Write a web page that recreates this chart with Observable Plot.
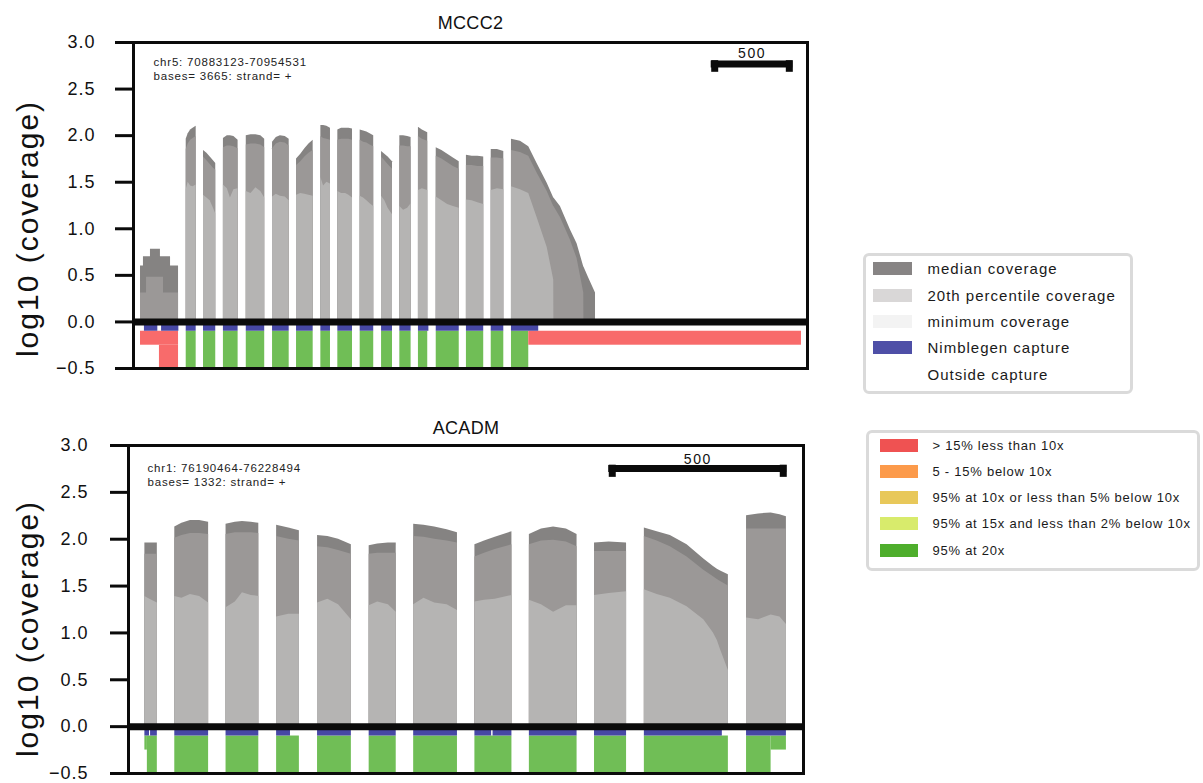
<!DOCTYPE html>
<html><head><meta charset="utf-8">
<script src="https://cdn.jsdelivr.net/npm/d3@7"></script>
<script src="https://cdn.jsdelivr.net/npm/@observablehq/plot@0.6"></script>
<style>
body{margin:0;background:#fff;font-family:"Liberation Sans",Arial,sans-serif;}
#root{position:relative;width:1203px;height:783px;overflow:hidden;background:#fff;}
.panel{position:absolute;left:0;}
.legend{position:absolute;border:3.5px solid #dadada;border-radius:6px;box-sizing:border-box;background:#fff;}
.sw{position:absolute;}
.lab{position:absolute;white-space:pre;color:#1a1a1a;line-height:1;}
</style></head><body><div id="root"></div>
<script>
// ---------- shared ----------
const yTicks = [-0.5, 0, 0.5, 1, 1.5, 2, 2.5, 3];
const yLabel = "log10 (coverage)";

// ---------- MCCC2 (top) ----------
const mccc2Title = "MCCC2";
const mccc2Info = "chr5: 70883123-70954531\nbases= 3665: strand= +";
const mccc2XMax = 4130;
const mccc2ScaleStart = 3540;
const mccc2ScaleLength = 500;
const mccc2Pos = [
 [43,61,61,80,80,104,104,165,165,184,184,227,227,276],
 [323,335,350,365,384],
 [429,450,470,490,504],
 [551,575,594,615,641],
 [691,720,750,780,804],
 [852,875,900,930,954],
 [999,1025,1050,1075,1101],
 [1148,1165,1185,1207],
 [1252,1275,1300,1320,1342],
 [1389,1410,1430,1450,1472],
 [1520,1540,1560,1587],
 [1632,1655,1680,1701],
 [1746,1770,1803],
 [1855,1890,1925,1960,1996],
 [2040,2075,2110,2146],
 [2192,2230,2269],
 [2316,2371,2422,2473,2535,2575,2576,2616,2677,2718,2759,2760,2790,2831]
];
const mccc2Median = [
 [0.60,0.60,0.70,0.70,0.70,0.70,0.78,0.78,0.70,0.70,0.70,0.70,0.60,0.60],
 [1.96,2.02,2.06,2.08,2.10],
 [1.84,1.81,1.77,1.73,1.70],
 [1.97,2.00,2.00,1.99,1.95],
 [2.00,2.01,2.01,2.00,1.96],
 [1.93,1.98,2.00,1.99,1.96],
 [1.75,1.80,1.86,1.91,1.95],
 [2.11,2.11,2.10,2.08],
 [2.06,2.08,2.08,2.08,2.07],
 [2.06,2.05,2.04,2.02,2.00],
 [1.83,1.80,1.77,1.72],
 [2.00,2.00,1.99,1.98],
 [2.09,2.06,2.03],
 [1.87,1.84,1.80,1.76,1.72],
 [1.79,1.78,1.78,1.77],
 [1.85,1.85,1.83],
 [1.96,1.94,1.88,1.70,1.49,1.33,1.33,1.24,0.99,0.84,0.59,0.59,0.47,0.31]
];
const mccc2P20 = [
 [0.31,0.31,0.31,0.31,0.48,0.48,0.48,0.48,0.48,0.48,0.31,0.31,0.31,0.31],
 [1.85,1.91,1.95,1.97,1.99],
 [1.77,1.73,1.69,1.65,1.63],
 [1.87,1.89,1.89,1.88,1.86],
 [1.90,1.91,1.91,1.90,1.87],
 [1.86,1.91,1.93,1.92,1.89],
 [1.68,1.72,1.77,1.81,1.84],
 [1.99,1.97,1.96,1.95],
 [1.95,1.96,1.96,1.96,1.95],
 [1.95,1.93,1.92,1.90,1.88],
 [1.77,1.73,1.69,1.64],
 [1.89,1.89,1.88,1.88],
 [1.99,1.96,1.94],
 [1.78,1.75,1.71,1.67,1.64],
 [1.68,1.68,1.67,1.67],
 [1.76,1.76,1.75],
 [1.84,1.82,1.78,1.60,1.40,1.24,1.24,1.12,0.88,0.68,0.31,0,0,0]
];
const mccc2Min = [
 [0,0,0,0,0,0,0,0,0,0,0,0,0,0],
 [1.42,1.50,1.46,1.45,1.47],
 [1.36,1.33,1.30,1.22,1.16],
 [1.47,1.43,1.33,1.42,1.43],
 [1.40,1.38,1.44,1.40,1.33],
 [1.34,1.37,1.35,1.34,1.30],
 [1.36,1.38,1.37,1.36,1.35],
 [1.55,1.46,1.50,1.48],
 [1.40,1.38,1.38,1.36,1.33],
 [1.35,1.33,1.30,1.27,1.24],
 [1.35,1.30,1.22,1.15],
 [1.24,1.20,1.22,1.27],
 [1.41,1.43,1.41],
 [1.34,1.30,1.26,1.24,1.22],
 [1.31,1.30,1.28,1.26],
 [1.41,1.43,1.42],
 [1.45,1.42,1.38,1.12,0.80,0.45,0,0,0,0,0,0,0,0]
];
const mccc2CaptureStart = [67,172,323,429,551,691,852,999,1148,1252,1389,1520,1632,1746,1855,2040,2192,2316];
const mccc2CaptureEnd   = [149,278,384,504,641,804,954,1101,1207,1342,1472,1587,1701,1810,1996,2146,2269,2483];
const RED = "> 15% less than 10x", GREEN = "95% at 20x";
const mccc2QualStart = [43,159,323,429,551,691,852,999,1148,1252,1389,1520,1632,1746,1855,2040,2192,2316,2422];
const mccc2QualEnd   = [276,276,384,504,641,804,954,1101,1207,1342,1472,1587,1701,1803,1996,2146,2269,2422,4093];
const mccc2QualLevel = [RED,RED,GREEN,GREEN,GREEN,GREEN,GREEN,GREEN,GREEN,GREEN,GREEN,GREEN,GREEN,GREEN,GREEN,GREEN,GREEN,GREEN,RED];
const mccc2QualSpan  = ["upper","lower","full","full","full","full","full","full","full","full","full","full","full","full","full","full","full","full","upper"];

// ---------- ACADM (bottom) ----------
const acadmTitle = "ACADM";
const acadmInfo = "chr1: 76190464-76228494\nbases= 1332: strand= +";
const acadmXMax = 1896;
const acadmScaleStart = 1349;
const acadmScaleLength = 500;
const acadmPos = [
 [46,60,81],
 [130,150,174,200,225],
 [274,300,320,345,366],
 [416,450,480],
 [531,560,590,626],
 [676,700,730,752],
 [801,830,860,895,924],
 [973,1000,1030,1077],
 [1126,1160,1194,1230,1260],
 [1309,1350,1399],
 [1449,1485,1522,1569,1616,1643,1654,1663,1685],
 [1736,1770,1805,1830,1848]
];
const acadmMedian = [
 [1.96,1.96,1.96],
 [2.13,2.17,2.20,2.20,2.18],
 [2.16,2.18,2.19,2.18,2.17],
 [2.15,2.12,2.09],
 [2.04,2.03,2.00,1.94],
 [1.93,1.95,1.96,1.96],
 [2.16,2.15,2.13,2.10,2.07],
 [1.94,1.98,2.02,2.08],
 [2.05,2.11,2.13,2.11,2.05],
 [1.96,1.97,1.96],
 [2.12,2.08,2.04,1.94,1.79,1.71,1.68,1.66,1.62],
 [2.25,2.27,2.28,2.26,2.24]
];
const acadmP20 = [
 [1.84,1.84,1.84],
 [2.01,2.04,2.06,2.06,2.05],
 [2.05,2.07,2.07,2.07,2.06],
 [2.03,2.00,1.98],
 [1.92,1.91,1.88,1.84],
 [1.84,1.85,1.85,1.85],
 [2.03,2.02,2.00,1.98,1.96],
 [1.81,1.85,1.89,1.94],
 [1.94,1.98,1.99,1.97,1.92],
 [1.87,1.87,1.87],
 [2.03,1.98,1.92,1.81,1.67,1.60,1.57,1.55,1.50],
 [2.11,2.11,2.11,2.11,2.11]
];
const acadmMin = [
 [1.39,1.36,1.32],
 [1.39,1.37,1.41,1.39,1.32],
 [1.27,1.33,1.43,1.40,1.39],
 [1.17,1.20,1.20],
 [1.32,1.36,1.30,1.14],
 [1.29,1.33,1.30,1.22],
 [1.30,1.37,1.32,1.30,1.24],
 [1.33,1.35,1.36,1.40],
 [1.35,1.30,1.22,1.29,1.29],
 [1.40,1.42,1.44],
 [1.46,1.41,1.37,1.28,1.14,1.00,0.92,0.82,0.60],
 [1.16,1.14,1.19,1.17,1.09]
];
const acadmCaptureStart = [46,62,130,274,416,531,676,801,973,1024,1126,1309,1449,1736];
const acadmCaptureEnd   = [59,81,225,366,455,626,752,924,1020,1077,1260,1399,1668,1848];
const acadmQualStart = [46,53,130,274,416,531,676,801,973,1126,1309,1449,1736,1805];
const acadmQualEnd   = [53,81,225,366,480,626,752,924,1077,1260,1399,1685,1805,1848];
const acadmQualLevel = [GREEN,GREEN,GREEN,GREEN,GREEN,GREEN,GREEN,GREEN,GREEN,GREEN,GREEN,GREEN,GREEN,GREEN];
const acadmQualSpan  = ["upper","full","full","full","full","full","full","full","full","full","full","full","full","upper"];

// ---------- legends ----------
const legend1Labels = ["median coverage","20th percentile coverage","minimum coverage","Nimblegen capture","Outside capture"];
const legend1Colors = ["#878484","#d9d7d7","#f3f3f3","#4e4fa7",null];
const legend2Labels = [RED,"5 - 15% below 10x","95% at 10x or less than 5% below 10x","95% at 15x and less than 2% below 10x",GREEN];
const legend2Colors = ["#ef5252","#fc9a4a","#e8c85a","#d8eb6c","#4eae2c"];

// ---------- drawing ----------
const qualFill = {[RED]: "#f86b6b", [GREEN]: "#70be56"};
const spanY = {upper: [-0.1, -0.25], lower: [-0.25, -0.5], full: [-0.1, -0.5]};
const FONT = "'Liberation Sans', Arial, Helvetica, sans-serif";

function buildRows(pos, med, p20, mn) {
  const rows = [];
  pos.forEach((xs, i) => xs.forEach((x, j) => rows.push({exon: i, x, med: med[i][j], p20: p20[i][j], min: mn[i][j]})));
  return rows;
}

function drawPanel(c) {
  const rows = buildRows(c.pos, c.med, c.p20, c.min);
  const cap = c.capStart.map((s, i) => ({x1: s, x2: c.capEnd[i]}));
  const qual = c.qStart.map((s, i) => ({x1: s, x2: c.qEnd[i], level: c.qLevel[i], span: c.qSpan[i]}));
  const bar = [{x1: c.scaleStart, x2: c.scaleStart + c.scaleLen, label: String(c.scaleLen)}];
  const W = 820;
  const svg = Plot.plot({
    width: W, height: c.height,
    marginLeft: c.left, marginRight: W - c.right, marginTop: c.top, marginBottom: c.bottom,
    x: {domain: [0, c.xMax], axis: null},
    y: {domain: [-0.5, 3]},
    style: {fontFamily: FONT, fontSize: "10px", color: "#111", background: "white", overflow: "visible"},
    marks: [
      Plot.area(rows, {x1: "x", y1: 0, y2: "med", z: "exon", fill: "#858382"}),
      Plot.area(rows, {x1: "x", y1: 0, y2: "p20", z: "exon", fill: "#9b9897"}),
      Plot.area(rows, {x1: "x", y1: 0, y2: "min", z: "exon", fill: "#b5b4b3"}),
      Plot.rect(qual, {x1: "x1", x2: "x2", y1: d => spanY[d.span][0], y2: d => spanY[d.span][1], fill: d => qualFill[d.level]}),
      Plot.rect(cap, {x1: "x1", x2: "x2", y1: -0.03, y2: -0.1, fill: "#4748a5"}),
      Plot.ruleY([0], {stroke: "#0b0b0b", strokeWidth: 7}),
      Plot.ruleY(bar, {x1: "x1", x2: "x2", y: c.barY, stroke: "#0b0b0b", strokeWidth: 7}),
      Plot.ruleX(bar, {x: "x1", y1: c.barY + 0.035, y2: c.barTickY, stroke: "#0b0b0b", strokeWidth: 7, dx: 3.5}),
      Plot.ruleX(bar, {x: "x2", y1: c.barY + 0.035, y2: c.barTickY, stroke: "#0b0b0b", strokeWidth: 7, dx: -3.5}),
      Plot.text(bar, {x: d => (d.x1 + d.x2) / 2, y: c.barLabelY, text: "label", lineAnchor: "bottom", textAnchor: "middle", fontSize: 14, fill: "#111", ariaLabel: () => "scalebar label"}),
      Plot.text([c.info], {frameAnchor: "top-left", dx: c.infoDx, dy: c.infoDy, lineAnchor: "top", textAnchor: "start", fontSize: 11.5, lineHeight: c.infoLH, fill: "#222", ariaLabel: () => "info"}),
      Plot.text([c.title], {frameAnchor: "top", dy: c.titleDy, lineAnchor: "bottom", textAnchor: "middle", fontSize: 18, fill: "#111", ariaLabel: () => "title"}),
      Plot.text([yLabel], {frameAnchor: "left", dx: c.ylDx, dy: c.ylDy, rotate: -90, textAnchor: "middle", lineAnchor: "middle", fontSize: 30, fill: "#111", ariaLabel: () => "ylabel"}),
      Plot.frame({stroke: "#0b0b0b", strokeWidth: 3}),
      Plot.axisY({ticks: yTicks, tickFormat: d3.format(".1f"), tickSize: 18, tickPadding: c.tickPad, fontSize: 18, stroke: "#0b0b0b", strokeWidth: 3, label: null})
    ]
  });
  const sp = (sel, v) => svg.querySelectorAll(sel).forEach(g => g.style.letterSpacing = v);
  sp('g[aria-label="y-axis tick label"] text', "1px");
  sp('[aria-label="info"]', "0.8px");
  sp('[aria-label="scalebar label"]', "1.5px");
  sp('[aria-label="ylabel"]', "2px");
  sp('[aria-label="title"]', "0.3px");
  svg.classList.add("panel");
  svg.style.position = "absolute";
  svg.style.left = "0px";
  svg.style.top = c.y + "px";
  return svg;
}

const root = document.getElementById("root");
root.appendChild(drawPanel({
  y: 0, height: 380, left: 133, right: 807, top: 42, bottom: 12,
  pos: mccc2Pos, med: mccc2Median, p20: mccc2P20, min: mccc2Min,
  capStart: mccc2CaptureStart, capEnd: mccc2CaptureEnd,
  qStart: mccc2QualStart, qEnd: mccc2QualEnd, qLevel: mccc2QualLevel, qSpan: mccc2QualSpan,
  xMax: mccc2XMax, scaleStart: mccc2ScaleStart, scaleLen: mccc2ScaleLength,
  barY: 2.77, barTickY: 2.68, barLabelY: 2.835,
  title: mccc2Title, titleDy: -14, info: mccc2Info, infoDx: 20, infoDy: 14, infoLH: 1.17,
  ylDx: -105, ylDy: 23, tickPad: 20
}));
root.appendChild(drawPanel({
  y: 400, height: 383, left: 128, right: 803, top: 45, bottom: 10,
  pos: acadmPos, med: acadmMedian, p20: acadmP20, min: acadmMin,
  capStart: acadmCaptureStart, capEnd: acadmCaptureEnd,
  qStart: acadmQualStart, qEnd: acadmQualEnd, qLevel: acadmQualLevel, qSpan: acadmQualSpan,
  xMax: acadmXMax, scaleStart: acadmScaleStart, scaleLen: acadmScaleLength,
  barY: 2.755, barTickY: 2.66, barLabelY: 2.80,
  title: acadmTitle, titleDy: -12, info: acadmInfo, infoDx: 19, infoDy: 16, infoLH: 1.25,
  ylDx: -100, ylDy: 19, tickPad: 22
}));

function legend(labels, colors, box, sw, textX, rowY, fontSize, ls) {
  const div = document.createElement("div");
  div.className = "legend";
  Object.assign(div.style, {left: box[0] + "px", top: box[1] + "px", width: box[2] + "px", height: box[3] + "px"});
  labels.forEach((lab, i) => {
    if (colors[i]) {
      const s = document.createElement("div");
      s.className = "sw";
      Object.assign(s.style, {left: sw[0] + "px", top: (rowY[i] - sw[2] / 2) + "px", width: sw[1] + "px", height: sw[2] + "px", background: colors[i]});
      div.appendChild(s);
    }
    const t = document.createElement("div");
    t.className = "lab";
    t.textContent = lab;
    Object.assign(t.style, {left: textX + "px", top: (rowY[i] - fontSize * 0.5) + "px", fontSize: fontSize + "px", letterSpacing: ls + "px"});
    div.appendChild(t);
  });
  root.appendChild(div);
}
// positions inside border-box (border 3.5px)
legend(legend1Labels, legend1Colors, [863, 253, 270, 141], [6.5, 39, 13], 61.5, [12.5, 39.2, 65.2, 91.2, 118.5], 15, 1);
legend(legend2Labels, legend2Colors, [866, 430, 334, 141], [10.5, 38, 13], 63.5, [12.2, 38.2, 64.2, 90.8, 117.2], 13, 0.75);
</script></body></html>
